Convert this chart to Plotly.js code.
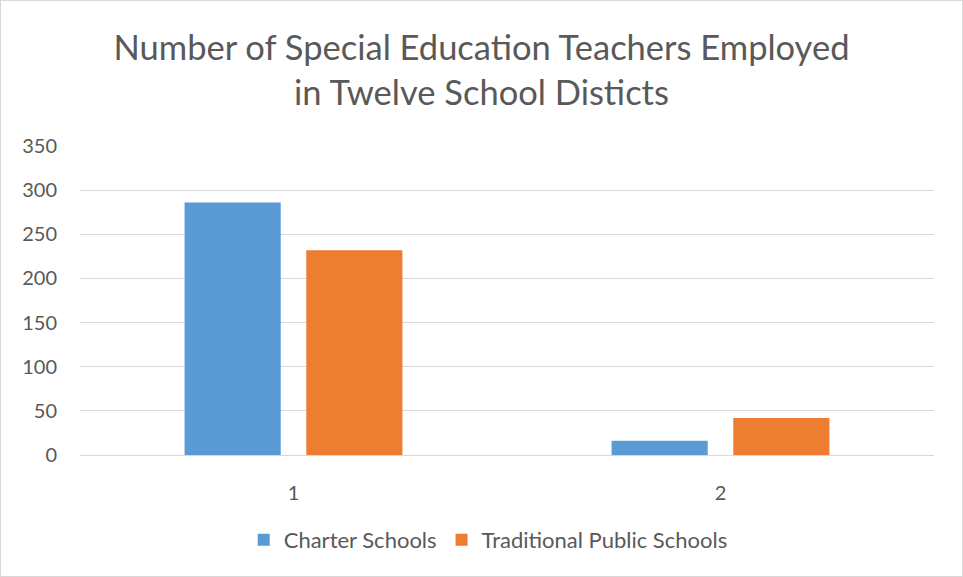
<!DOCTYPE html>
<html>
<head>
<meta charset="utf-8">
<script src="https://cdn.plot.ly/plotly-3.0.1.min.js"></script>
<style>
html,body{margin:0;padding:0;background:#fff;}
#chart{width:961px;height:575px;border:1px solid #d9d9d9;}
</style>
</head>
<body>
<div id="chart"></div>
<script>
const categories = ["1", "2"];
const charterSchools = [286, 16];
const traditionalPublicSchools = [232, 42];
const yTickVals = [0, 50, 100, 150, 200, 250, 300, 350];
const titleText = "Number of Special Education Teachers Employed<br>in Twelve School Disticts";

const fontFamily = "Lato, 'Open Sans', 'Liberation Sans', sans-serif";
const traces = [
  {type: "bar", name: "Charter Schools", x: categories, y: charterSchools,
   marker: {color: "#5b9bd5"}},
  {type: "bar", name: "Traditional Public Schools", x: categories, y: traditionalPublicSchools,
   marker: {color: "#ed7d31"}}
];
const layout = {
  width: 961, height: 575,
  margin: {l: 79, r: 28, t: 145, b: 121},
  paper_bgcolor: "#fff", plot_bgcolor: "#fff",
  font: {family: fontFamily, color: "#595959", size: 20},
  title: {text: titleText,
          font: {family: fontFamily, size: 34.5, color: "#595959", weight: 400},
          x: 0.5, xanchor: "center", y: 0.898, yref: "container", yanchor: "middle"},
  barmode: "group", bargap: 0.43, bargroupgap: 0.21,
  xaxis: {type: "category", showgrid: false, showline: true, linecolor: "#d9d9d9", linewidth: 1,
          ticks: "", ticklabelstandoff: 20, tickfont: {size: 20, color: "#595959"}},
  yaxis: {range: [0, 350], tickvals: yTickVals, showgrid: true, gridcolor: "#d9d9d9", gridwidth: 1,
          zeroline: false, showline: false, ticks: "", ticklabelstandoff: 22,
          tickfont: {size: 20, color: "#595959"}},
  legend: {orientation: "h", x: 0.478, xanchor: "center", y: -0.275, yanchor: "middle",
           font: {size: 22, color: "#595959"}, itemwidth: 30, tracegroupgap: 0},
  showlegend: true
};
Plotly.newPlot("chart", traces, layout, {displayModeBar: false, staticPlot: true});
</script>
</body>
</html>
